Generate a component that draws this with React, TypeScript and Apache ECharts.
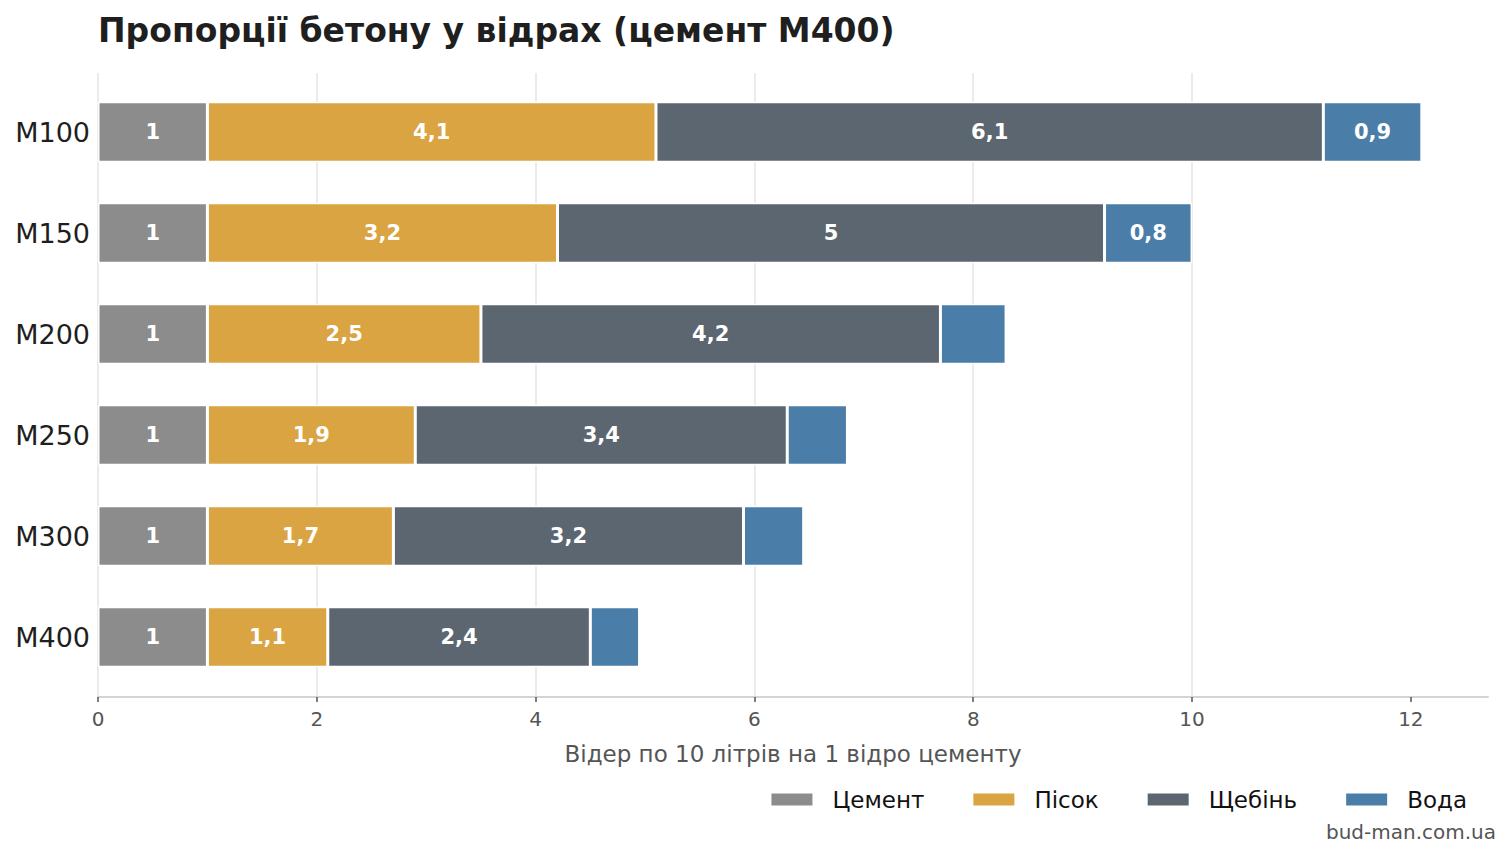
import React, { useEffect, useRef } from 'react';
import * as echarts from 'echarts';

const grades = ['М100', 'М150', 'М200', 'М250', 'М300', 'М400'];
const cement = [1, 1, 1, 1, 1, 1];
const sand = [4.1, 3.2, 2.5, 1.9, 1.7, 1.1];
const gravel = [6.1, 5, 4.2, 3.4, 3.2, 2.4];
const water = [0.9, 0.8, 0.6, 0.55, 0.55, 0.45];
const xTicks = [0, 2, 4, 6, 8, 10, 12];

const FONT = 'DejaVu Sans';
const xMax = 12.705;

const fmt = (v: number) => (v >= 0.7 ? String(v).replace('.', ',') : '');

export default function App() {
  const chartRef = useRef<HTMLDivElement>(null);

  useEffect(() => {
    if (!chartRef.current) return;
    const chart = echarts.init(chartRef.current, null, { renderer: 'svg' });

    const makeSeries = (name: string, data: number[], color: string) => ({
      name,
      type: 'bar',
      stack: 'total',
      xAxisIndex: 0,
      yAxisIndex: 0,
      data,
      barWidth: '60%',
      itemStyle: { color, borderColor: '#ffffff', borderWidth: 1.5 },
      label: {
        show: true,
        position: 'inside',
        color: '#ffffff',
        fontFamily: FONT,
        fontWeight: 'bold',
        fontSize: 21,
        formatter: (p: any) => fmt(p.value),
      },
    });

    chart.setOption({
      animation: false,
      textStyle: { fontFamily: FONT },
      title: {
        text: 'Пропорції бетону у відрах (цемент М400)',
        left: 98,
        top: 14,
        padding: 0,
        textStyle: { fontFamily: FONT, fontWeight: 'bold', fontSize: 33, color: '#1f1f1f' },
      },
      legend: {
        right: 40,
        top: 783,
        itemWidth: 43,
        itemHeight: 14,
        itemGap: 47,
        icon: 'rect',
        textStyle: { fontFamily: FONT, fontSize: 23, color: '#111111', padding: [0, 0, 0, 14] },
        data: ['Цемент', 'Пісок', 'Щебінь', 'Вода'],
      },
      grid: [
        { left: 98, right: 24, top: 81.5, height: 606 },
        { left: 98, right: 24, top: 73, height: 624 },
      ],
      xAxis: [
        { type: 'value', gridIndex: 0, min: 0, max: xMax, show: false },
        {
          type: 'value',
          gridIndex: 1,
          min: 0,
          max: xMax,
          interval: 2,
          name: 'Відер по 10 літрів на 1 відро цементу',
          nameLocation: 'middle',
          nameGap: 45,
          nameTextStyle: { fontFamily: FONT, fontSize: 23, color: '#555555' },
          axisLine: { show: true, lineStyle: { color: '#d4d4d4', width: 2 } },
          axisTick: { show: true, length: 5, customValues: xTicks, lineStyle: { color: '#555555', width: 1.5 } },
          axisLabel: { customValues: xTicks, fontFamily: FONT, fontSize: 20, color: '#555555', margin: 12 },
          splitLine: { show: true, showMaxLine: false, lineStyle: { color: '#e5e5e5', width: 1.5 } },
        },
      ],
      yAxis: [
        {
          type: 'category',
          gridIndex: 0,
          data: grades,
          inverse: true,
          axisLine: { show: false },
          axisTick: { show: false },
          axisLabel: { fontFamily: FONT, fontSize: 27, color: '#1f1f1f', margin: 8 },
        },
        { type: 'value', gridIndex: 1, show: false },
      ],
      graphic: [
        {
          type: 'text',
          right: 16,
          top: 822,
          style: { text: 'bud-man.com.ua', fontFamily: FONT, fontSize: 20, fill: '#555555' },
        },
      ],
      series: [
        makeSeries('Цемент', cement, '#8c8c8c'),
        makeSeries('Пісок', sand, '#daa442'),
        makeSeries('Щебінь', gravel, '#5c6670'),
        makeSeries('Вода', water, '#4a7ea8'),
      ],
    });

    return () => chart.dispose();
  }, []);

  return <div ref={chartRef} style={{ width: 1512, height: 859, margin: -8 }} />;
}
